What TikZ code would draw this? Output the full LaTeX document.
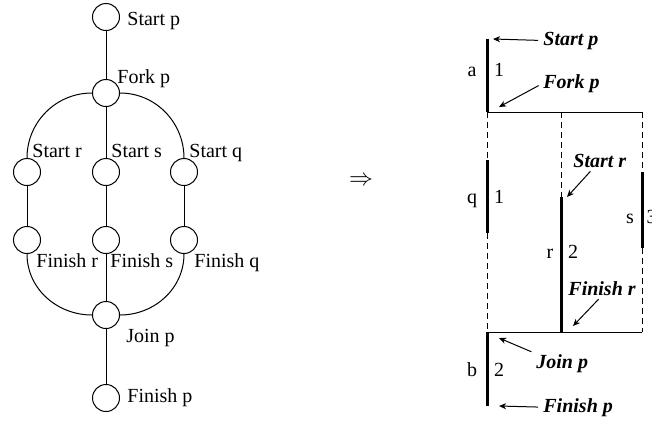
\documentclass[tikz,border=0pt]{standalone}
\usepackage{fontspec}
\setmainfont{Liberation Serif}
\usepackage{tikz}
\usetikzlibrary{arrows.meta,calc}

\begin{document}
\begin{tikzpicture}[x=0.5pt, y=0.5pt,
    vertex/.style={circle, draw, line width=0.5pt, minimum size=13.5pt, inner sep=0pt},
    lbl/.style={anchor=base west, inner sep=0pt},
    tag/.style={anchor=base, inner sep=0pt},
    ev/.style={anchor=base west, inner sep=0pt, font=\bfseries\itshape},
    bar/.style={line width=1.5pt},
    thin/.style={line width=0.5pt},
    gap/.style={line width=0.5pt, dashed, dash pattern=on 3pt off 2pt},
    pointer/.style={line width=0.5pt, -{Stealth[length=3.5pt, width=3pt, inset=1pt]}, shorten <=2.5pt}]
    \useasboundingbox (0,0) rectangle (652,420);

    % process graph
    \node[vertex] (sp) at (106,403) {};
    \node[vertex] (fp) at (106,327) {};
    \node[vertex] (sr) at (27,248) {};
    \node[vertex] (ss) at (106,248) {};
    \node[vertex] (sq) at (184,248) {};
    \node[vertex] (fr) at (27,180) {};
    \node[vertex] (fs) at (106,180) {};
    \node[vertex] (fq) at (184,180) {};
    \node[vertex] (jp) at (106,105) {};
    \node[vertex] (fn) at (106,22) {};

    \node[lbl] (lsp) at (127,395) {Start p};
    \node[lbl] (lfp) at (117,337) {Fork p};
    \node[lbl] (lsr) at (32,263) {Start r};
    \node[lbl] (lss) at (111,263) {Start s};
    \node[lbl] (lsq) at (189,263) {Start q};
    \node[lbl] (lfr) at (36,153) {Finish r};
    \node[lbl] (lfs) at (110,153) {Finish s};
    \node[lbl] (lfq) at (194,153) {Finish q};
    \node[lbl] (ljp) at (126,78) {Join p};
    \node[lbl] (lfn) at (127,18) {Finish p};

    \draw[thin] (sp) -- (fp);
    \draw[thin] (fp) -- (ss);
    \draw[thin] (fp.west) to[out=180, in=90] (sr.north);
    \draw[thin] (fp.east) to[out=0, in=90] (sq.north);
    \draw[thin] (sr) -- (fr);
    \draw[thin] (ss) -- (fs);
    \draw[thin] (sq) -- (fq);
    \draw[thin] (fr.south) to[out=-90, in=180] (jp.west);
    \draw[thin] (fq.south) to[out=-90, in=0] (jp.east);
    \draw[thin] (fs) -- (jp);
    \draw[thin] (jp) -- (fn);

    \node (impl) at (361,239) {\large$\Rightarrow$};

    % time line
    \draw[bar] (487,381) -- (487,308);
    \draw[thin] (487,308) -- (642,308);
    \draw[gap] (487,308) -- (487,260);
    \draw[bar] (487,260) -- (487,187);
    \draw[gap] (487,187) -- (487,88);
    \draw[gap] (561,308) -- (561,223);
    \draw[bar] (561,223) -- (561,88);
    \draw[gap] (642,308) -- (642,248);
    \draw[bar] (642,248) -- (642,172);
    \draw[gap] (642,172) -- (642,88);
    \draw[thin] (487,88) -- (642,88);
    \draw[bar] (487,88) -- (487,14);

    \node[tag] (ta) at (472,344) {a};
    \node[tag] (na) at (499,344) {1};
    \node[tag] (tq) at (472,217) {q};
    \node[tag] (nq) at (499,217) {1};
    \node[tag] (tr) at (550,162) {r};
    \node[tag] (nr) at (573,162) {2};
    \node[tag] (ts) at (630,197) {s};
    \node[tag] (ns) at (651.5,197) {3};
    \node[tag] (tb) at (472,44) {b};
    \node[tag] (nb) at (499,44) {2};

    \node[ev] (esp) at (543,375) {Start p};
    \node[ev] (efp) at (543,332) {Fork p};
    \node[ev] (esr) at (573,253) {Start r};
    \node[ev] (efr) at (568,125) {Finish r};
    \node[ev] (ejp) at (536,52) {Join p};
    \node[ev] (efn) at (543,8) {Finish p};

    \coordinate (hsp) at (493,381);
    \coordinate (hfp) at (499,313);
    \coordinate (hsr) at (567,223);
    \coordinate (hfr) at (573,94);
    \coordinate (hjp) at (499,82);
    \coordinate (hfn) at (499,14);

    \draw[pointer] (esp.west) -- (hsp);
    \draw[pointer] (efp.west) -- (hfp);
    \draw[pointer] ($(esr.south)+(-6,0)$) -- (hsr);
    \draw[pointer] (efr.south) -- (hfr);
    \draw[pointer] (ejp.north west) -- (hjp);
    \draw[pointer] (efn.west) -- (hfn);
\end{tikzpicture}
\end{document}
